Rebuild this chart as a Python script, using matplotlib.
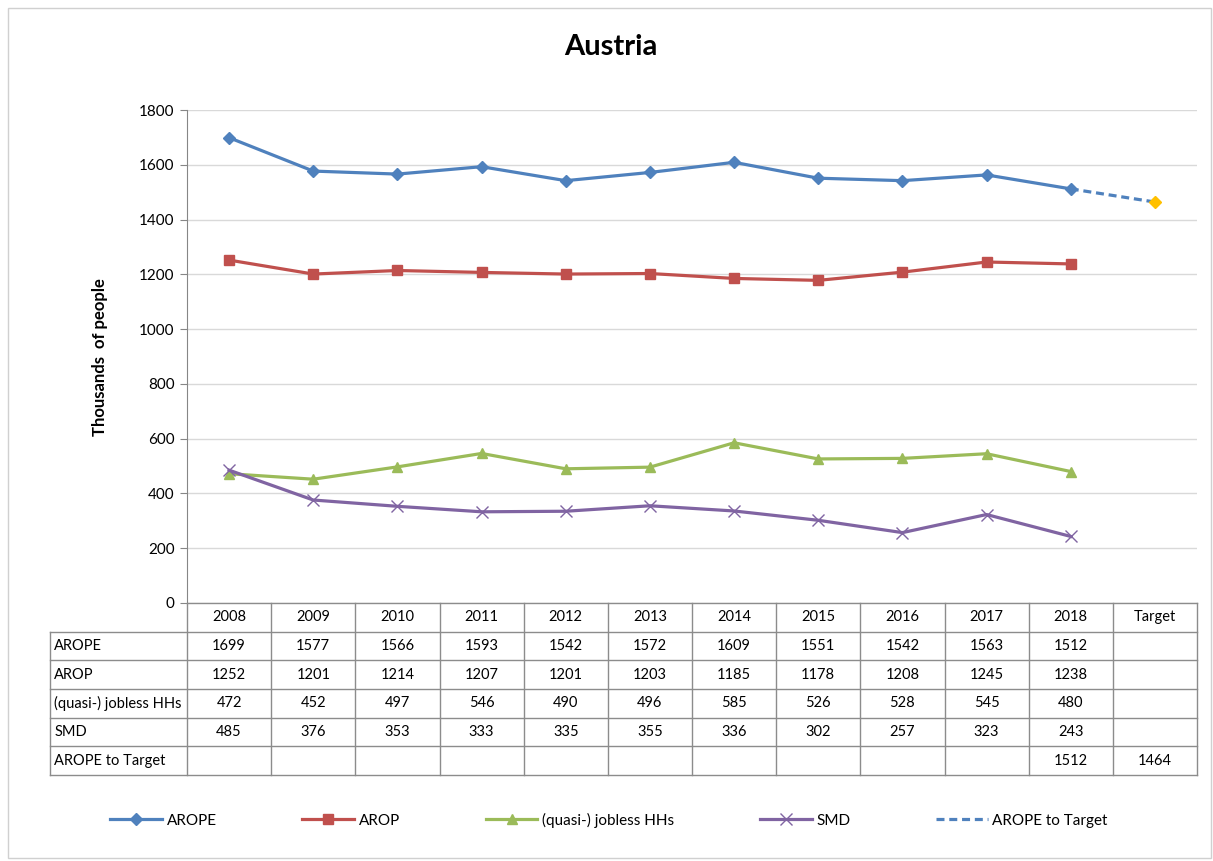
import numpy as np
import matplotlib.pyplot as plt
from matplotlib.lines import Line2D
from matplotlib.patches import Rectangle

plt.rcParams['font.family'] = ['Lato', 'DejaVu Sans']

years = ['2008', '2009', '2010', '2011', '2012', '2013', '2014', '2015', '2016', '2017', '2018', 'Target']
arope = [1699, 1577, 1566, 1593, 1542, 1572, 1609, 1551, 1542, 1563, 1512]
arop = [1252, 1201, 1214, 1207, 1201, 1203, 1185, 1178, 1208, 1245, 1238]
jobless = [472, 452, 497, 546, 490, 496, 585, 526, 528, 545, 480]
smd = [485, 376, 353, 333, 335, 355, 336, 302, 257, 323, 243]
to_target = [1512, 1464]   # 2018 -> Target

row_names = ['AROPE', 'AROP', '(quasi-) jobless HHs', 'SMD', 'AROPE to Target']
colors = ['#4F81BD', '#C0504D', '#9BBB59', '#8064A2']

W, H = 1213, 861
fig = plt.figure(figsize=(W / 100, H / 100), dpi=100)
fig.patches.append(Rectangle((8 / W, 3 / H), 1203 / W, 850 / H, transform=fig.transFigure,
                             fill=False, edgecolor='#D0D0D0', lw=1))

ax = fig.add_axes([187 / W, 1 - 603 / H, (1197 - 187) / W, (603 - 110) / H])
x = np.arange(len(years))

lw = 2.3
ax.plot(x[:11], arope, color=colors[0], lw=lw, marker='D', ms=6, label='AROPE', zorder=4)
ax.plot(x[:11], arop, color=colors[1], lw=lw, marker='s', ms=7, label='AROP', zorder=4)
ax.plot(x[:11], jobless, color=colors[2], lw=lw, marker='^', ms=7, label='(quasi-) jobless HHs', zorder=4)
ax.plot(x[:11], smd, color=colors[3], lw=lw, marker='x', ms=9, mew=1, label='SMD', zorder=4)
ax.plot(x[10:12], to_target, color=colors[0], lw=lw, ls=(0, (2.5, 1.5)), zorder=3)
ax.plot(x[11], to_target[1], marker='D', ms=6, color='#FFC000', ls='none', zorder=4)

ax.set_xlim(-0.5, 11.5)
ax.set_ylim(0, 1800)
ax.set_yticks(np.arange(0, 1801, 200))
ax.tick_params(axis='y', labelsize=11, length=5, color='#868686', pad=4)
ax.set_xticks([])
ax.grid(axis='y', color='#D9D9D9', lw=1)
ax.set_axisbelow(True)
for s in ['top', 'right', 'bottom']:
    ax.spines[s].set_visible(False)
ax.spines['left'].set_color('#868686')

fig.text(611 / W, 1 - 47 / H, 'Austria', ha='center', va='center', fontsize=21, fontweight='bold')
fig.text(100 / W, 1 - 357 / H, 'Thousands  of people', rotation=90, ha='center', va='center',
         fontsize=12, fontweight='bold')

# data table under the chart
tax = fig.add_axes([50 / W, 1 - 775 / H, (1197 - 50) / W, (775 - 603) / H])
colw = (1197 - 187) / 12
lab_w = (187 - 50) / colw
tax.set_xlim(-0.5 - lab_w, 11.5)
tax.set_ylim(6, 0)
tax.axis('off')
gc = '#8C8C8C'
for k in range(13):
    tax.plot([k - 0.5, k - 0.5], [0, 6], color=gc, lw=1, clip_on=False)
tax.plot([-0.5 - lab_w] * 2, [1, 6], color=gc, lw=1, clip_on=False)
tax.plot([-0.5, 11.5], [0, 0], color=gc, lw=1, clip_on=False)
for r in range(1, 7):
    tax.plot([-0.5 - lab_w, 11.5], [r, r], color=gc, lw=1, clip_on=False)
for i, yr in enumerate(years):
    tax.text(i, 0.5, yr, ha='center', va='center', fontsize=10.5)
rows = [arope, arop, jobless, smd]
for r, name in enumerate(row_names):
    tax.text(-0.5 - lab_w + 0.05, r + 1.5, name, ha='left', va='center', fontsize=10.5)
for r, vals in enumerate(rows):
    for i, v in enumerate(vals):
        tax.text(i, r + 1.5, str(v), ha='center', va='center', fontsize=10.5)
for i, v in zip([10, 11], to_target):
    tax.text(i, 5.5, str(v), ha='center', va='center', fontsize=10.5)

handles = [
    Line2D([], [], color=colors[0], lw=lw, marker='D', ms=6),
    Line2D([], [], color=colors[1], lw=lw, marker='s', ms=7),
    Line2D([], [], color=colors[2], lw=lw, marker='^', ms=7),
    Line2D([], [], color=colors[3], lw=lw, marker='x', ms=9, mew=1),
    Line2D([], [], color=colors[0], lw=lw, ls=(0, (2.5, 1.5))),
]
labels = ['AROPE', 'AROP', '(quasi-) jobless HHs', 'SMD', 'AROPE to Target']
fig.legend(handles, labels, loc='center', bbox_to_anchor=(609 / W, 1 - 820 / H), ncol=5,
           frameon=False, fontsize=11, handlelength=3.4, handletextpad=0.3, columnspacing=5.6)

fig.savefig('out.png', dpi=100)
